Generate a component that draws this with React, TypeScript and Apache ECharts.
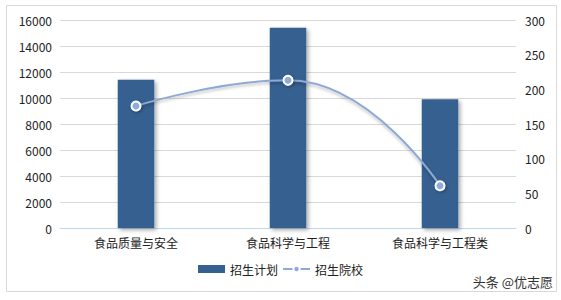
import React, { useEffect, useRef } from "react";
import * as echarts from "echarts";

const categories = ["食品质量与安全", "食品科学与工程", "食品科学与工程类"];
const planValues = [11400, 15400, 9900];
const schoolValues = [176, 213, 61];

export default function App() {
  const ref = useRef<HTMLDivElement>(null);
  useEffect(() => {
    const chart = echarts.init(ref.current!, null, { renderer: "svg" });
    const font = "'Microsoft YaHei', 'Noto Sans CJK SC', sans-serif";
    chart.setOption({
      animation: false,
      backgroundColor: "#ffffff",
      textStyle: { fontFamily: font },
      grid: { left: 60, right: 45, top: 20, bottom: 72 },
      graphic: [
        {
          type: "rect",
          shape: { x: 6.5, y: 5.5, width: 550, height: 286 },
          style: { fill: "none", stroke: "#D9D9D9", lineWidth: 1 },
          silent: true,
        },
        {
          type: "text",
          right: 8,
          top: 275,
          style: { text: "头条 @优志愿", fill: "#333", font: `13px ${font}` },
          z: 100,
        },
      ],
      legend: {
        bottom: 20,
        left: "center",
        itemWidth: 27,
        itemHeight: 8,
        itemGap: 4,
        textStyle: { fontSize: 12, color: "#222", fontFamily: font },
        data: [
          { name: "招生计划", icon: "rect" },
          { name: "招生院校" },
        ],
      },
      xAxis: {
        type: "category",
        data: categories,
        axisLine: { lineStyle: { color: "#BDD7EE" } },
        axisTick: { show: false },
        axisLabel: { fontSize: 12, color: "#222", margin: 8 },
      },
      yAxis: [
        {
          type: "value",
          min: 0,
          max: 16000,
          interval: 2000,
          axisLine: { show: false },
          axisTick: { show: false },
          axisLabel: { fontSize: 12, color: "#222", margin: 8, formatter: (v: number) => String(v) },
          splitLine: { lineStyle: { color: "#D9D9D9" } },
        },
        {
          type: "value",
          min: 0,
          max: 300,
          interval: 50,
          axisLine: { show: false },
          axisTick: { show: false },
          axisLabel: { fontSize: 12, color: "#222", margin: 9, formatter: (v: number) => String(v) },
          splitLine: { show: false },
        },
      ],
      series: [
        {
          name: "招生计划",
          type: "bar",
          data: planValues,
          barWidth: "24%",
          itemStyle: {
            color: "#36608F",
            shadowColor: "rgba(0,0,0,0.35)",
            shadowBlur: 4,
            shadowOffsetX: 2,
            shadowOffsetY: 2,
          },
        },
        {
          name: "招生院校",
          type: "line",
          yAxisIndex: 1,
          data: schoolValues,
          smooth: true,
          symbol: "circle",
          symbolSize: 9,
          lineStyle: {
            color: "#8EA9D4",
            width: 2,
            shadowColor: "rgba(0,0,0,0.25)",
            shadowBlur: 3,
            shadowOffsetY: 2,
          },
          itemStyle: {
            color: "#8FAADC",
            borderColor: "#ffffff",
            borderWidth: 2,
            shadowColor: "rgba(0,0,0,0.35)",
            shadowBlur: 3,
            shadowOffsetX: 1,
            shadowOffsetY: 1,
          },
        },
      ],
    });
    return () => chart.dispose();
  }, []);
  return <div ref={ref} style={{ width: 561, height: 300, position: "absolute", left: 0, top: 0 }} />;
}
